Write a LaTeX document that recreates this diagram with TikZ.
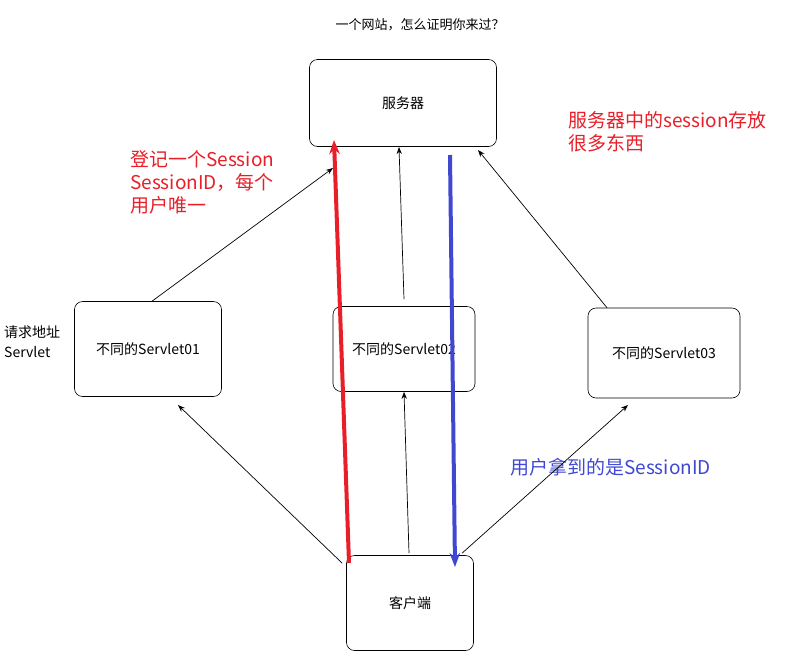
\documentclass[tikz,border=0pt]{standalone}
\usepackage{fontspec}
\setmainfont{Noto Sans CJK SC}
\usetikzlibrary{arrows.meta, positioning}
\definecolor{regred}{RGB}{232,30,40}
\definecolor{idblue}{RGB}{64,72,210}

\begin{document}
\begin{tikzpicture}[x=1pt, y=-1pt,
        box/.style={draw, rounded corners=8pt, line width=0.6pt, font=\fontsize{14}{16}\selectfont, inner sep=0pt},
        link/.style={-{Stealth[length=7pt]}, line width=0.7pt},
        note/.style={align=left, font=\fontsize{19}{23}\selectfont, inner sep=0pt, anchor=north west}
    ]
        \useasboundingbox (0,0) rectangle (801,665);
        % Nodes
        \node[box, minimum width=187pt, minimum height=87pt] (srv) at (403,103) {服务器};
        \node[box, minimum width=147pt, minimum height=95pt] (s01) at (148,349) {不同的Servlet01};
        \node[box, minimum width=142pt, minimum height=85pt] (s02) at (404,349) {不同的Servlet02};
        \node[box, minimum width=152pt, minimum height=90pt] (s03) at (664,353) {不同的Servlet03};
        \node[box, minimum width=127pt, minimum height=95pt] (cli) at (410,603) {客户端};

        % Texts
        \node[font=\fontsize{13}{15}\selectfont] (title) at (420,25) {一个网站，怎么证明你来过？};
        \node[note, font=\fontsize{14}{20}\selectfont] (addr) at (4,326) {请求地址\\Servlet};
        \node[note, text=regred] (reg) at (130,150) {登记一个Session\\SessionID，每个\\用户唯一};
        \node[note, text=regred] (store) at (568,111) {服务器中的session存放\\很多东西};
        \node[note, text=idblue] (got) at (510,458) {用户拿到的是SessionID};

        % Connectors
        \coordinate (a1) at (333,168);
        \coordinate (a2) at (399,147);
        \coordinate (a3) at (478,150);
        \draw[link] (s01.north) ++(4,0) coordinate (b1) -- (a1);
        \draw[link] (s02.north) ++(0,-7) -- (a2);
        \draw[link] (s03.north) ++(-57,0) -- (a3);
        \draw[link] (cli.north west) ++(-4,8) -- (178,405);
        \draw[link] (cli.north) ++(-1,-2) -- (s02.south);
        \draw[link] (cli.north) ++(52,-2) -- (628,405);

        % Session
        \coordinate (r1) at (349,563);
        \coordinate (r2) at (334,140);
        \coordinate (u1) at (450,155);
        \coordinate (u2) at (455,567);
        \draw[-{Stealth[length=14pt]}, line width=4pt, regred] (r1) -- (r2);
        \draw[-{Stealth[length=14pt]}, line width=4pt, idblue] (u1) -- (u2);
    \end{tikzpicture}
\end{document}
